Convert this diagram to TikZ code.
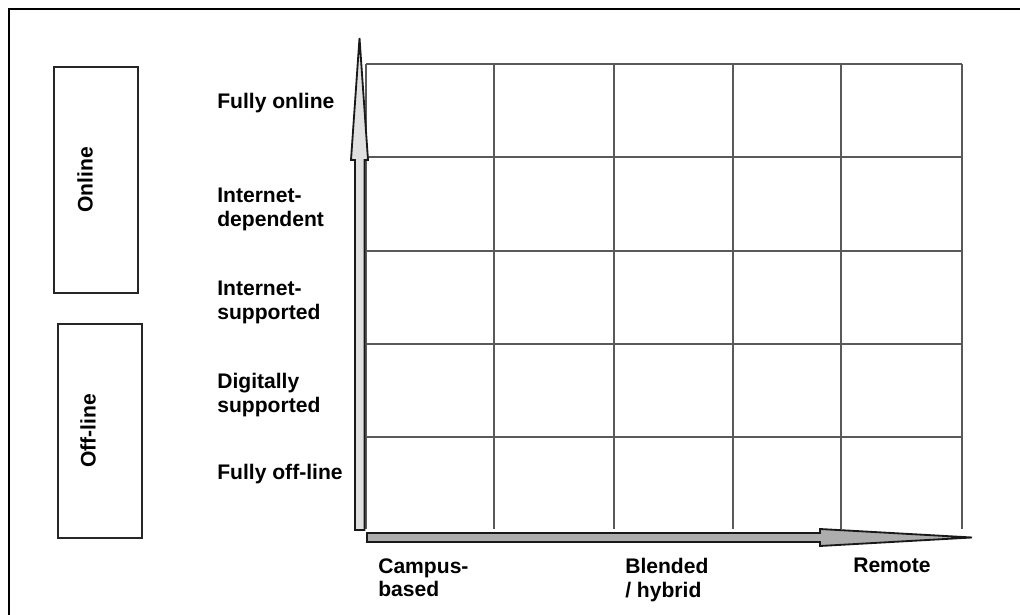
\documentclass[tikz,border=0pt]{standalone}
\usepackage{fontspec}
\setmainfont{Liberation Sans}
\usetikzlibrary{positioning}

\tikzset{
  label/.style={font=\bfseries\fontsize{15}{17}\selectfont, inner sep=0pt, align=left},
  gridline/.style={draw=black!65, line width=1pt},
  sidebox/.style={draw=black!85, line width=1.2pt},
  arrowshape/.style={draw=black!90, line width=1.3pt, line join=miter}
}

\begin{document}
\begin{tikzpicture}[x=0.025cm, y=-0.025cm]

% Size of the page
\useasboundingbox (0,0) rectangle (1020,615);

% Frame (only top and left edges show)
\draw[line width=2pt] (1020,9) -- (9,9) -- (9,615);

% Grid of cells
\def\gtop{64}
\def\gbot{529}
\foreach \x in {366,494,614,733,841,962}
  \draw[gridline] (\x,\gtop) -- (\x,\gbot);
\foreach \y in {64,157,251,344,437}
  \draw[gridline] (366,\y) -- (962,\y);

% Vertical arrow (online-ness)
\coordinate (V0) at (360,530);
\coordinate (Vtip) at (359.5,38);
\draw[arrowshape, fill=black!12]
  (355,530) -- (355,160) -- (351,160) -- (Vtip) -- (368,160) -- (364.5,160) -- (364.5,530) -- cycle;

% Horizontal arrow (place of study)
\coordinate (H0) at (367,537.5);
\coordinate (Htip) at (972,537.5);
\draw[arrowshape, fill=black!32]
  (367,533) -- (820,533) -- (820,529) -- (Htip) -- (820,546) -- (820,542) -- (367,542) -- cycle;

% Side boxes
\draw[sidebox] (54,67) rectangle (138,293);
\node[label, rotate=90] (online) at (85,180) {Online};
\draw[sidebox] (58,324) rectangle (142,538);
\node[label, rotate=90] (offline) at (88,431) {Off-line};

% Row labels
\node[label, anchor=west] (r5) at (217,103) {Fully online};
\node[label, anchor=west] (r4) at (217,209) {Internet-\\dependent};
\node[label, anchor=west] (r3) at (217,302) {Internet-\\supported};
\node[label, anchor=west] (r2) at (217,395) {Digitally\\supported};
\node[label, anchor=west] (r1) at (217,474) {Fully off-line};

% Column labels
\node[label, anchor=north west] (c1) at (378,558) {Campus-\\based};
\node[label, anchor=north west] (c2) at (625,558) {Blended\\/ hybrid};
\node[label, anchor=north west] (c3) at (853,558) {Remote};

\end{tikzpicture}
\end{document}
